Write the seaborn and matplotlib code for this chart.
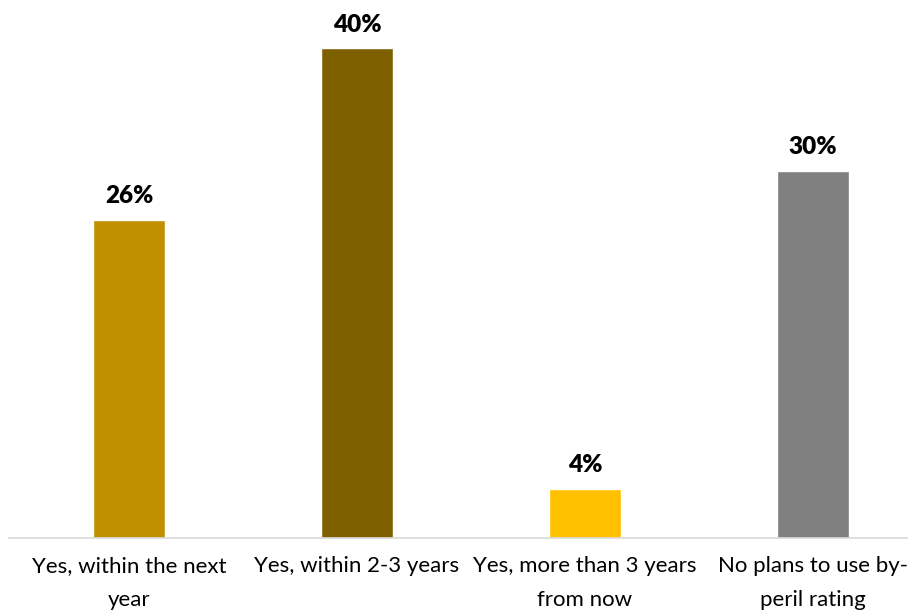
import matplotlib
matplotlib.use("Agg")
import matplotlib.pyplot as plt
import seaborn as sns
import pandas as pd

categories = ["Yes, within the next\nyear", "Yes, within 2-3 years",
              "Yes, more than 3 years\nfrom now", "No plans to use by-\nperil rating"]
values = [26, 40, 4, 30]
colors = ["#BF9000", "#7F6000", "#FFC000", "#808080"]

sns.set_theme(style="white")
plt.rcParams['font.family'] = ['Lato', 'DejaVu Sans']

W, H = 908, 611
fig = plt.figure(figsize=(W / 100, H / 100), dpi=100)
left_px, right_px = 9, 908
base_px, top_px = 538, 48
ax = fig.add_axes([left_px / W, (H - base_px) / H, (right_px - left_px) / W, (base_px - top_px) / H])

df = pd.DataFrame({"cat": categories, "val": values})
sns.barplot(data=df, x="cat", y="val", hue="cat", palette=colors, width=0.316,
            legend=False, ax=ax, saturation=1)

step = 228
ax.set_xlim(-(129 - left_px) / step, 3 + (right_px - 813) / step)
ax.set_ylim(0, 40)

for i, v in enumerate(values):
    ax.annotate(f"{v}%", (i, v), xytext=(0, 9), textcoords="offset points",
                ha="center", va="bottom", fontsize=17.5, fontweight="heavy",
                color="black", annotation_clip=False)

for s in ["top", "right", "left"]:
    ax.spines[s].set_visible(False)
ax.spines["bottom"].set_color("#D9D9D9")
ax.spines["bottom"].set_linewidth(1.2)
ax.set_yticks([])
ax.set_xlabel("")
ax.set_ylabel("")
ax.tick_params(axis="x", length=0, pad=13, labelsize=16, colors="black")
for t in ax.get_xticklabels():
    t.set_linespacing(1.9)

fig.savefig("out.png", dpi=100)
